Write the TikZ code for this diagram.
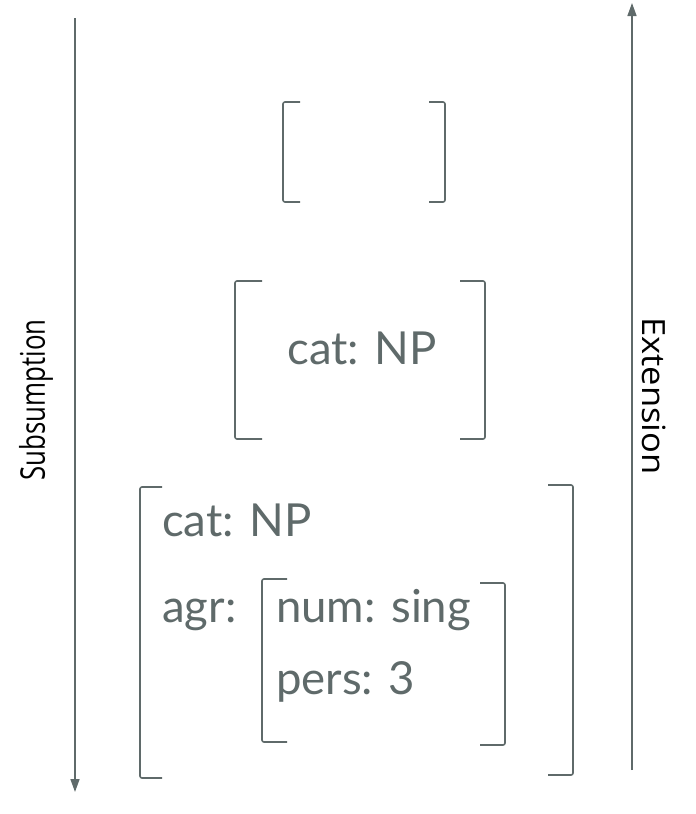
\documentclass[tikz,border=0pt]{standalone}
\usepackage{fontspec}
\setmainfont{Lato}
\newfontfamily\labelfont{Open Sans}
\usetikzlibrary{arrows.meta}
\definecolor{slate}{RGB}{95,106,106}
\tikzset{
  px/.style={x=1pt,y=-1pt},
  brk/.style={draw=slate,line width=1.6pt,rounded corners=2pt},
  axis/.style={draw=slate,line width=1.5pt,-{Triangle[length=13pt,width=9pt]}},
  feat/.style={text=slate,font=\fontsize{45.5}{50}\selectfont,inner sep=0pt,anchor=base west},
  featc/.style={text=slate,font=\fontsize{45.5}{50}\selectfont,inner sep=0pt,anchor=base},
  side/.style={text=black,inner sep=0pt}
}
\begin{document}
\begin{tikzpicture}[px]
\useasboundingbox (0,0) rectangle (696,814);
% axes
\coordinate (subTop) at (75,18);
\coordinate (subBot) at (75,792);
\coordinate (extBot) at (632,770);
\coordinate (extTop) at (632,3);
\draw[axis] (subTop) -- (subBot);
\draw[axis] (extBot) -- (extTop);
\node[side,rotate=90,font=\labelfont\fontsize{34}{37}\selectfont] (sub) at (36,400) {\scalebox{0.76}[1]{Subsumption}};
\node[side,rotate=-90,font=\labelfont\fontsize{32}{36}\selectfont] (ext) at (654,396) {\scalebox{1.08}[1]{Extension}};
% empty structure
\draw[brk] (300,102) -- (283,102) -- (283,202) -- (300,202);
\draw[brk] (429,102) -- (445,102) -- (445,202) -- (429,202);
% cat: NP
\draw[brk] (262,281) -- (235,281) -- (235,439) -- (262,439);
\draw[brk] (460,281) -- (485,281) -- (485,439) -- (460,439);
\node[featc] (c1) at (362,364) {cat: NP};
% cat: NP, agr: [num: sing, pers: 3]
\draw[brk] (162,487) -- (140,487) -- (140,778) -- (162,778);
\draw[brk] (548,485) -- (573,485) -- (573,775) -- (548,775);
\node[feat] (c2) at (162,536) {cat: NP};
\node[feat] (agr) at (162,622) {agr:};
\draw[brk] (287,579) -- (262,579) -- (262,742) -- (287,742);
\draw[brk] (480,583) -- (505,583) -- (505,745) -- (480,745);
\node[feat] (num) at (276,622) {num: sing};
\node[feat] (pers) at (276,694) {pers: 3};
\end{tikzpicture}
\end{document}
